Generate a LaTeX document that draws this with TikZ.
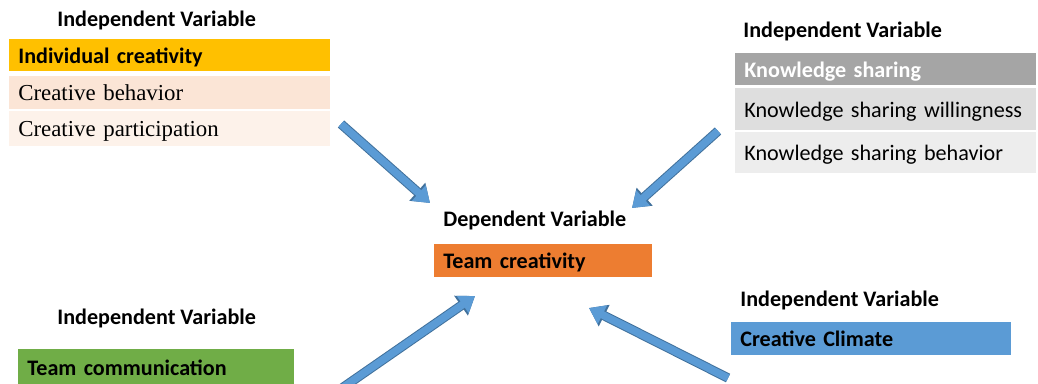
\documentclass[tikz,border=0pt]{standalone}
\usepackage{fontspec}
\setmainfont{Carlito}
\newfontfamily\timesfont{Liberation Serif}
\usetikzlibrary{arrows.meta}

\definecolor{goldC}{HTML}{FFC000}
\definecolor{peachA}{HTML}{FBE5D6}
\definecolor{peachB}{HTML}{FDF2EA}
\definecolor{grayA}{HTML}{A5A5A5}
\definecolor{grayB}{HTML}{DEDEDE}
\definecolor{grayC}{HTML}{EDEDED}
\definecolor{orangeC}{HTML}{ED7D31}
\definecolor{greenC}{HTML}{70AD47}
\definecolor{blueC}{HTML}{5B9BD5}
\definecolor{arrowC}{HTML}{5B9BD5}
\definecolor{arrowD}{HTML}{41719C}

\begin{document}
\begin{tikzpicture}[x=0.02cm, y=-0.02cm,
    heading/.style={anchor=west, inner sep=0pt, font=\fontsize{12.6}{15}\selectfont\bfseries},
    varbox/.style={anchor=north west, inner xsep=0.18cm, inner ysep=0pt, align=left,
      text depth=0pt, font=\fontsize{12.6}{15}\selectfont},
    leftbox/.style={varbox, minimum width=6.42cm, text width=6.06cm},
    rightbox/.style={varbox, minimum width=6.02cm, text width=5.66cm},
    bluearrow/.style={line width=0.15cm, draw=arrowC, -{Triangle[width=0.4cm,length=0.3cm]},
      preaction={draw=arrowD, line width=0.19cm, -{Triangle[width=0.46cm,length=0.34cm]}}}]
    \useasboundingbox (0,0) rectangle (1038,383);
    \clip (0,0) rectangle (1038,383);

    % Individual creativity (top left)
    \node[heading] (ivtl) at (57,20) {Independent Variable};
    \node[leftbox, fill=goldC, minimum height=0.64cm, font=\fontsize{12.6}{15}\selectfont\bfseries] (indiv) at (9,39) {Individual creativity};
    \node[leftbox, fill=peachA, minimum height=0.66cm, font=\fontsize{13}{15}\timesfont] (behav) at (9,76) {Creative behavior};
    \node[leftbox, fill=peachB, minimum height=0.70cm, font=\fontsize{13}{15}\timesfont] (partic) at (9,111) {Creative participation};

    % Knowledge sharing (top right)
    \node[heading] (ivtr) at (743,31) {Independent Variable};
    \node[rightbox, fill=grayA, text=white, minimum height=0.64cm, font=\fontsize{12.6}{15}\selectfont\bfseries] (share) at (735,53) {Knowledge sharing};
    \node[rightbox, fill=grayB, minimum height=0.84cm] (willing) at (735,88) {Knowledge sharing willingness};
    \node[rightbox, fill=grayC, minimum height=0.82cm] (shbehav) at (735,132) {Knowledge sharing behavior};

    % Team creativity (centre)
    \node[heading] (dv) at (443,220) {Dependent Variable};
    \node[varbox, fill=orangeC, minimum width=4.36cm, text width=4.0cm, minimum height=0.66cm,
      font=\fontsize{12.6}{15}\selectfont\bfseries] (team) at (434,244) {Team creativity};

    % Team communication (bottom left)
    \node[heading] (ivbl) at (57,318) {Independent Variable};
    \node[varbox, fill=greenC, minimum width=5.52cm, text width=5.16cm, minimum height=0.72cm,
      font=\fontsize{12.6}{15}\selectfont\bfseries] (comm) at (18,349) {Team communication};

    % Creative climate (bottom right)
    \node[heading] (ivbr) at (740,300) {Independent Variable};
    \node[varbox, fill=blueC, minimum width=5.6cm, text width=5.24cm, minimum height=0.66cm,
      font=\fontsize{12.6}{15}\selectfont\bfseries] (climate) at (731,322) {Creative Climate};

    % Arrow ends
    \coordinate (tlS) at (341,124);
    \coordinate (tlE) at (430,203);
    \coordinate (trS) at (718,131);
    \coordinate (trE) at (632,208);
    \coordinate (blS) at (335,393);
    \coordinate (blE) at (475,296);
    \coordinate (brS) at (728,378);
    \coordinate (brE) at (589,308);

    % Arrows
    \draw[bluearrow] (tlS) -- (tlE);
    \draw[bluearrow] (trS) -- (trE);
    \draw[bluearrow] (blS) -- (blE);
    \draw[bluearrow] (brS) -- (brE);
\end{tikzpicture}
\end{document}
